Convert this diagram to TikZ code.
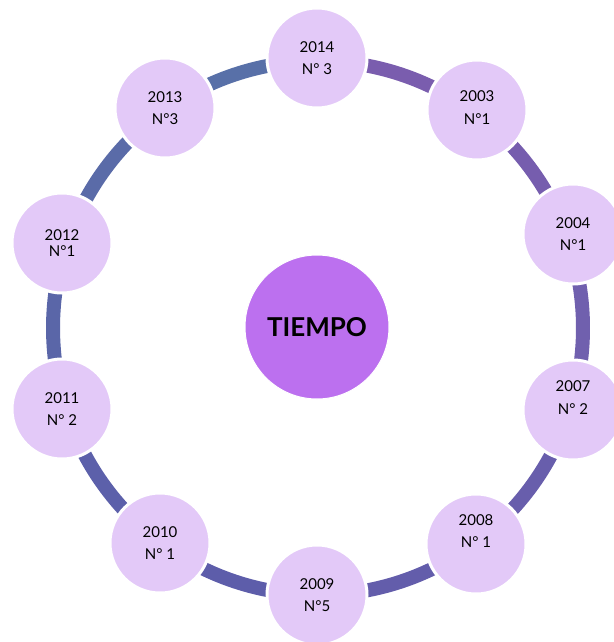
\documentclass[tikz,border=0pt]{standalone}
\usepackage{fontspec}
\setmainfont{Lato}
\definecolor{lav}{HTML}{E3C9F8}
\definecolor{hub}{HTML}{BC70EF}
\definecolor{ca}{HTML}{7A5DAE}
\definecolor{cb}{HTML}{765DAE}
\definecolor{cc}{HTML}{7060AE}
\definecolor{cd}{HTML}{685EAC}
\definecolor{ce}{HTML}{635DAB}
\definecolor{cf}{HTML}{5D5DAA}
\definecolor{cg}{HTML}{5C60AA}
\definecolor{ch}{HTML}{5A66A8}
\definecolor{ci}{HTML}{5A6BA8}
\definecolor{cj}{HTML}{5870A8}
\tikzset{
  yearbox/.style={circle, fill=lav, draw=white, line width=3pt, minimum size=100pt,
    inner sep=0pt, align=center, font=\fontsize{15}{22.5}\selectfont, text=black},
  hubbox/.style={circle, fill=hub, draw=white, line width=1pt, minimum size=144pt,
    inner sep=0pt, font=\fontsize{26}{28}\selectfont\bfseries, text=black},
  ringarc/.style={line width=14pt, line cap=butt},
}
\newcommand{\upby}[2]{\raisebox{#1}[\height][\depth]{\begin{tabular}{@{}c@{}}#2\end{tabular}}}
\begin{document}
\begin{tikzpicture}[x=1pt,y=-1pt]
\useasboundingbox (0,0) rectangle (613,642);
\fill[white] (0,0) rectangle (613,642);
\coordinate (rc) at (318,328);
% ring segments (angles in picture frame, y downward)
\foreach \a/\b/\c in {-90.2/-53.9/ca, -53.9/-20.2/cb, -20.2/17.8/cc, 17.8/53.8/cd,
  53.8/90.2/ce, 90.2/126.3/cf, 126.3/162.4/cg, 162.4/198.4/ch, 198.4/235.2/ci, 235.2/269.8/cj}
  \draw[ringarc, draw=\c] ([shift={(\a:265 and 267)}]rc)
     arc[start angle=\a, end angle=\b, x radius=265, y radius=267];
% nodes
\node[hubbox] (hub) at (317,327) {TIEMPO};
\node[yearbox] (y2014) at (317,58) {2014\\N° 3};
\node[yearbox] (y2003) at (477,110) {\upby{1.5pt}{2003\\N°1}};
\node[yearbox] (y2004) at (573,234) {2004\\N°1};
\node[yearbox] (y2007) at (573,410) {\upby{11.5pt}{2007\\N° 2}};
\node[yearbox] (y2008) at (476,544) {\upby{12pt}{2008\\N° 1}};
\node[yearbox] (y2009) at (317,595) {2009\\N°5};
\node[yearbox] (y2010) at (160,543) {2010\\N° 1};
\node[yearbox] (y2011) at (62,409) {2011\\N° 2};
\node[yearbox] (y2012) at (62,243) {2012\\[-6pt]N°1};
\node[yearbox] (y2013) at (165,108) {2013\\N°3};
\end{tikzpicture}
\end{document}
